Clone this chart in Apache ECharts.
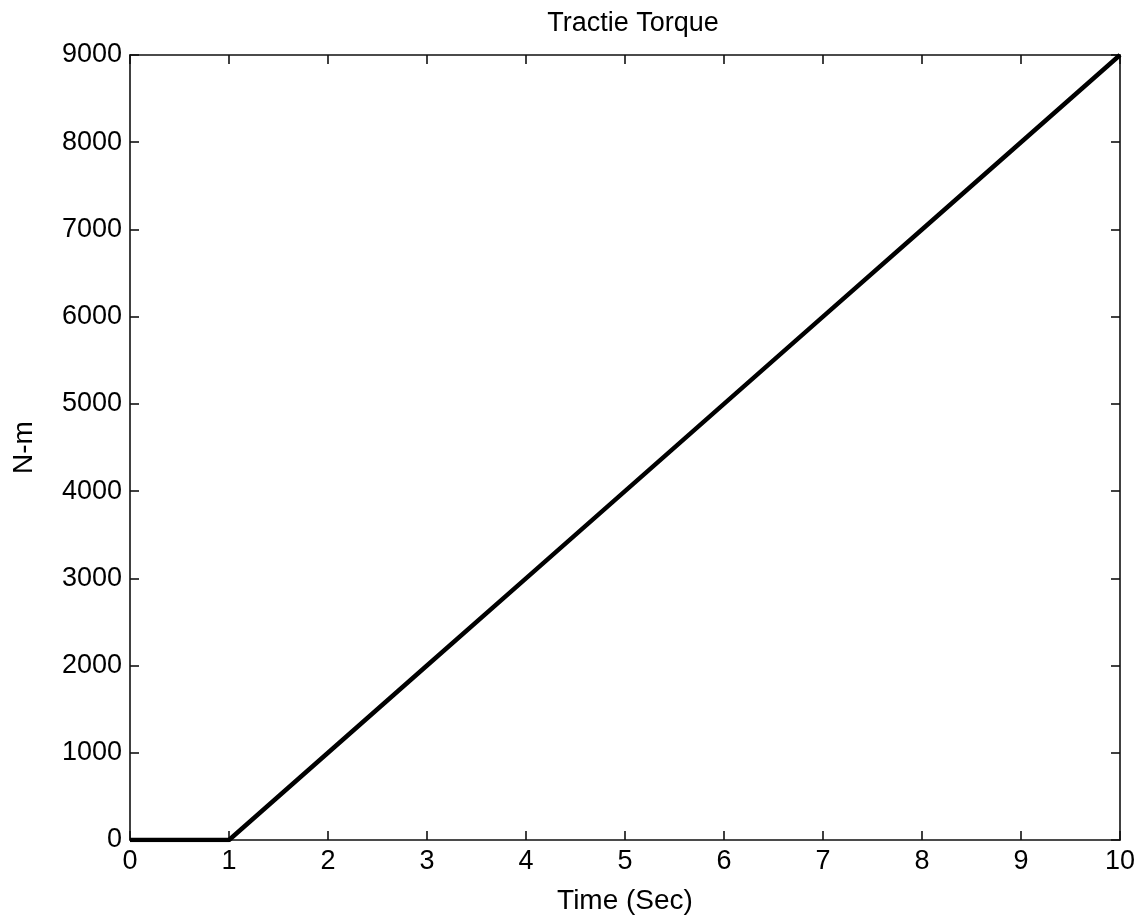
<!DOCTYPE html>
<html><head><meta charset="utf-8">
<script src="https://cdn.jsdelivr.net/npm/echarts@6/dist/echarts.min.js"></script>
<style>html,body{margin:0;padding:0;background:#fff}#c{width:1142px;height:924px}</style>
</head><body><div id="c"></div>
<script>
const timeSec = [0, 1, 2, 3, 4, 5, 6, 7, 8, 9, 10];
const torqueNm = [0, 0, 1000, 2000, 3000, 4000, 5000, 6000, 7000, 8000, 9000];
const xTicks = [0, 1, 2, 3, 4, 5, 6, 7, 8, 9, 10];
const yTicks = [0, 1000, 2000, 3000, 4000, 5000, 6000, 7000, 8000, 9000];

const font = 'Liberation Sans, Arial, sans-serif';
const chart = echarts.init(document.getElementById('c'));
const axisLine = {show: true, onZero: false, lineStyle: {color: '#111', width: 1.6}};
const tick = {show: true, inside: true, length: 9, lineStyle: {color: '#111', width: 1.6}};
chart.setOption({
  animation: false,
  backgroundColor: '#fff',
  title: {text: 'Tractie Torque', left: 628, top: 5, textAlign: 'center',
    textStyle: {fontFamily: font, fontSize: 27, fontWeight: 'normal', color: '#000'}},
  grid: {left: 130, right: 22, top: 55, bottom: 84},
  xAxis: [{
    type: 'value', min: xTicks[0], max: xTicks[xTicks.length - 1], interval: 1,
    name: 'Time (Sec)', nameLocation: 'middle', nameGap: 47,
    nameTextStyle: {fontFamily: font, fontSize: 28, color: '#000'},
    axisLine, axisTick: tick, splitLine: {show: false},
    axisLabel: {fontFamily: font, fontSize: 27, color: '#000', margin: 8}
  }, {
    type: 'value', position: 'top', min: 0, max: 10, interval: 1,
    axisLine, axisTick: tick, splitLine: {show: false}, axisLabel: {show: false}
  }],
  yAxis: [{
    type: 'value', min: yTicks[0], max: yTicks[yTicks.length - 1], interval: 1000,
    name: 'N-m', nameLocation: 'middle', nameGap: 92, nameRotate: 90,
    nameTextStyle: {fontFamily: font, fontSize: 28, color: '#000'},
    axisLine, axisTick: tick, splitLine: {show: false},
    axisLabel: {fontFamily: font, fontSize: 27, color: '#000', margin: 8,
      formatter: v => String(v)}
  }, {
    type: 'value', position: 'right', min: 0, max: 9000, interval: 1000,
    axisLine, axisTick: tick, splitLine: {show: false}, axisLabel: {show: false}
  }],
  series: [{
    type: 'line', xAxisIndex: 0, yAxisIndex: 0,
    data: timeSec.map((t, i) => [t, torqueNm[i]]),
    showSymbol: false, lineStyle: {color: '#000', width: 4.5}
  }]
});
</script></body></html>
